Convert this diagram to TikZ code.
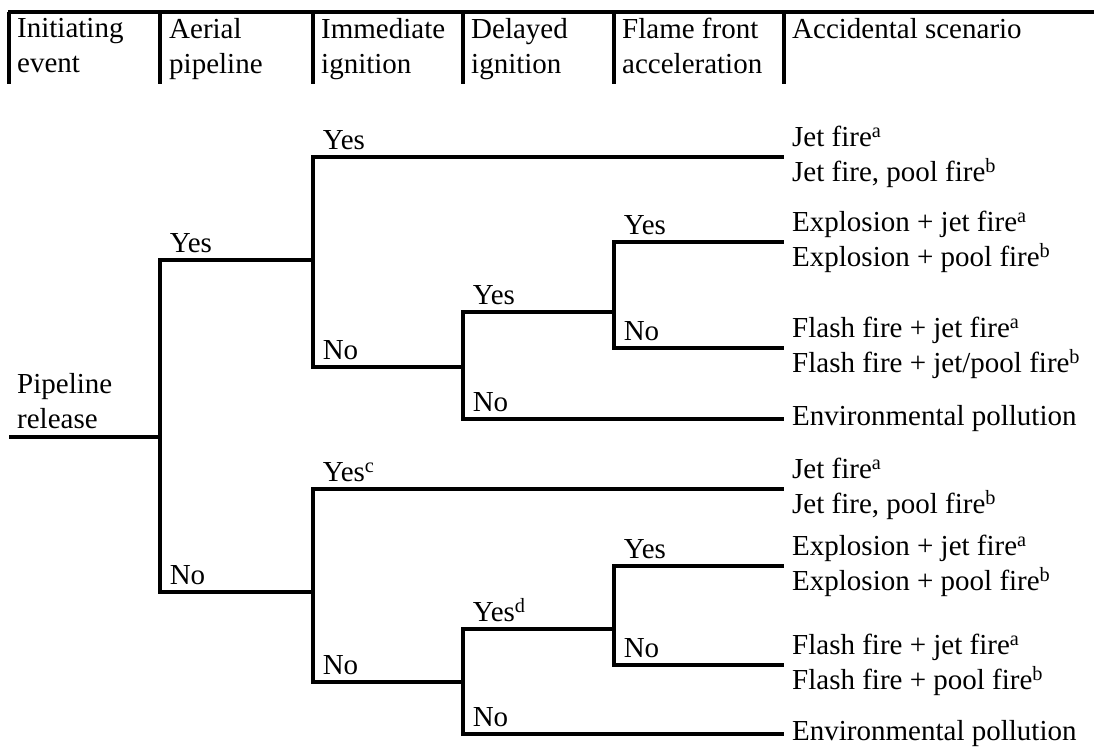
\documentclass[tikz,border=0pt]{standalone}
\usepackage{fontspec}
\setmainfont{Liberation Serif}
\begin{document}
\begin{tikzpicture}[x=1pt,y=-1pt,
    every node/.style={font=\fontsize{29}{35}\selectfont},
    branch/.style={line width=3.5pt},
    rule/.style={line width=3.5pt},
    head/.style={anchor=north west,align=left,inner sep=0pt},
    ans/.style={pos=0.5,anchor=south west,inner xsep=8pt,inner ysep=5pt},
    outcome/.style={anchor=west,align=left,inner xsep=8pt,inner ysep=0pt}]
\useasboundingbox (0,0) rectangle (1094,749);
% header
\draw[rule] (8,12) -- (1094,12);
\foreach \x in {9,160,313,463,614,784}
  \draw[rule] (\x,12) -- (\x,84);
\node[head] (h1) at (17,18) {Initiating\\event};
\node[head] (h2) at (169,18) {Aerial\\pipeline};
\node[head] (h3) at (321,18) {Immediate\\ignition};
\node[head] (h4) at (471,18) {Delayed\\ignition};
\node[head] (h5) at (622,18) {Flame front\\acceleration};
\node[head] (h6) at (792,18) {Accidental scenario};
% split points
\coordinate (root) at (9,437);
\coordinate (s1) at (160,437);
\coordinate (s2) at (313,260);
\coordinate (s3) at (463,367);
\coordinate (s4) at (614,312);
\coordinate (t2) at (313,592);
\coordinate (t3) at (463,682);
\coordinate (t4) at (614,629);
\node[anchor=south west,align=left,inner xsep=8pt,inner ysep=8pt] (src) at (root) {Pipeline\\release};
% outcomes
\node[outcome] (o1) at (784,157) {Jet fire\textsuperscript{a}\\Jet fire, pool fire\textsuperscript{b}};
\node[outcome] (o2) at (784,242) {Explosion + jet fire\textsuperscript{a}\\Explosion + pool fire\textsuperscript{b}};
\node[outcome] (o3) at (784,348) {Flash fire + jet fire\textsuperscript{a}\\Flash fire + jet/pool fire\textsuperscript{b}};
\node[outcome] (o4) at (784,419) {Environmental pollution};
\node[outcome] (p1) at (784,489) {Jet fire\textsuperscript{a}\\Jet fire, pool fire\textsuperscript{b}};
\node[outcome] (p2) at (784,566) {Explosion + jet fire\textsuperscript{a}\\Explosion + pool fire\textsuperscript{b}};
\node[outcome] (p3) at (784,665) {Flash fire + jet fire\textsuperscript{a}\\Flash fire + pool fire\textsuperscript{b}};
\node[outcome] (p4) at (784,734) {Environmental pollution};
% branches
\draw[branch] (root) -- (s1);
\draw[branch] (s1) |- node[ans] (y1) {Yes} (s2);
\draw[branch] (s1) |- node[ans] (n1) {No} (t2);
\draw[branch] (s2) |- node[ans] (y2) {Yes} (o1.west);
\draw[branch] (s2) |- node[ans] (n2) {No} (s3);
\draw[branch] (s3) |- node[ans] (y3) {Yes} (s4);
\draw[branch] (s3) |- node[ans] (n3) {No} (o4.west);
\draw[branch] (s4) |- node[ans] (y4) {Yes} (o2.west);
\draw[branch] (s4) |- node[ans] (n4) {No} (o3.west);
\draw[branch] (t2) |- node[ans] (y5) {Yes\textsuperscript{c}} (p1.west);
\draw[branch] (t2) |- node[ans] (n5) {No} (t3);
\draw[branch] (t3) |- node[ans] (y6) {Yes\textsuperscript{d}} (t4);
\draw[branch] (t3) |- node[ans] (n6) {No} (p4.west);
\draw[branch] (t4) |- node[ans] (y7) {Yes} (p2.west);
\draw[branch] (t4) |- node[ans] (n7) {No} (p3.west);
\end{tikzpicture}
\end{document}
